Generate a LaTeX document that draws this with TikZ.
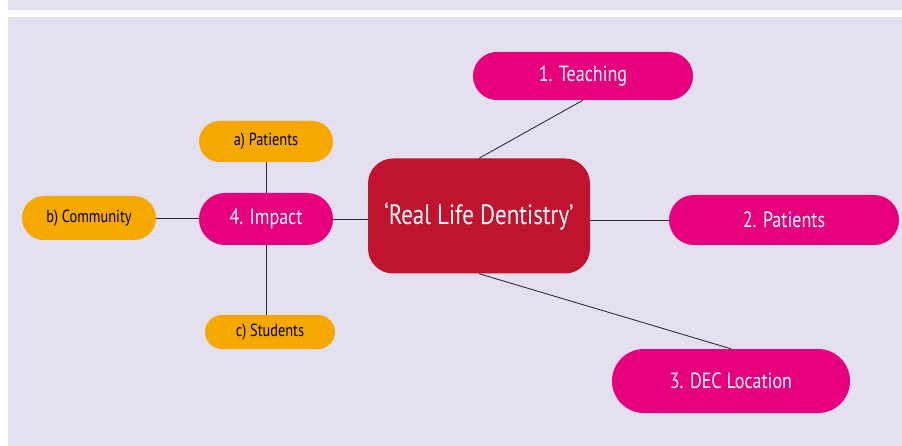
\documentclass[tikz,border=0pt]{standalone}
\usepackage{fontspec}
\setmainfont{PT Sans}[FakeStretch=0.82]
\usetikzlibrary{shapes.misc}

\definecolor{panel}{RGB}{228,224,240}
\definecolor{crimson}{RGB}{192,19,47}
\definecolor{magenta}{RGB}{230,0,126}
\definecolor{amber}{RGB}{245,168,0}
\definecolor{link}{RGB}{40,40,45}

\tikzset{
    topic/.style={rounded rectangle, fill=magenta, text=white, inner sep=0pt,
        font=\fontsize{22}{24}\selectfont},
    subtopic/.style={rounded rectangle, fill=amber, text=black, inner sep=0pt,
        font=\fontsize{17.5}{20}\selectfont},
    link/.style={draw=link, line width=0.85pt}
}

\begin{document}
\begin{tikzpicture}[x=1pt,y=-1pt]
    % Page and panels
    \useasboundingbox[fill=white] (0,0) rectangle (902,446);
    \fill[panel] (8,0) rectangle (902,10);
    \fill[panel] (8,17) rectangle (902,446);

    % Central topic
    \node[rectangle, rounded corners=25pt, fill=crimson, text=white,
        minimum width=222pt, minimum height=115pt, inner sep=0pt,
        font=\fontsize{28}{30}\selectfont] (centre) at (479,216) {`Real Life Dentistry'};

    % Main topics
    \node[topic, minimum width=220pt, minimum height=48pt] (teach) at (583,76) {1. Teaching};
    \node[topic, minimum width=230pt, minimum height=50pt] (patients) at (784,220) {2. Patients};
    \node[topic, minimum width=238pt, minimum height=64pt] (dec) at (731,381) {3. DEC Location};
    \node[topic, minimum width=134pt, minimum height=52pt] (impact) at (266,219) {4. Impact};

    % Sub topics of impact
    \node[subtopic, minimum width=134pt, minimum height=41pt] (apatients) at (266,141.5) {a) Patients};
    \node[subtopic, minimum width=134pt, minimum height=44pt] (community) at (89,218) {b) Community};
    \node[subtopic, minimum width=130pt, minimum height=34pt] (students) at (270,332) {c) Students};

    % Links
    \draw[link] (centre.north) -- (teach.south);
    \draw[link] (centre.south) -- (dec.north);
    \draw[link] (patients.west) -- (patients.west -| centre.east);
    \draw[link] (impact.east) -- (impact.east -| centre.west);
    \draw[link] (community.east) -- (community.east -| impact.west);
    \draw[link] (impact.north) -- (impact.north |- apatients.south);
    \draw[link] (impact.south) -- (impact.south |- students.north);
\end{tikzpicture}
\end{document}
